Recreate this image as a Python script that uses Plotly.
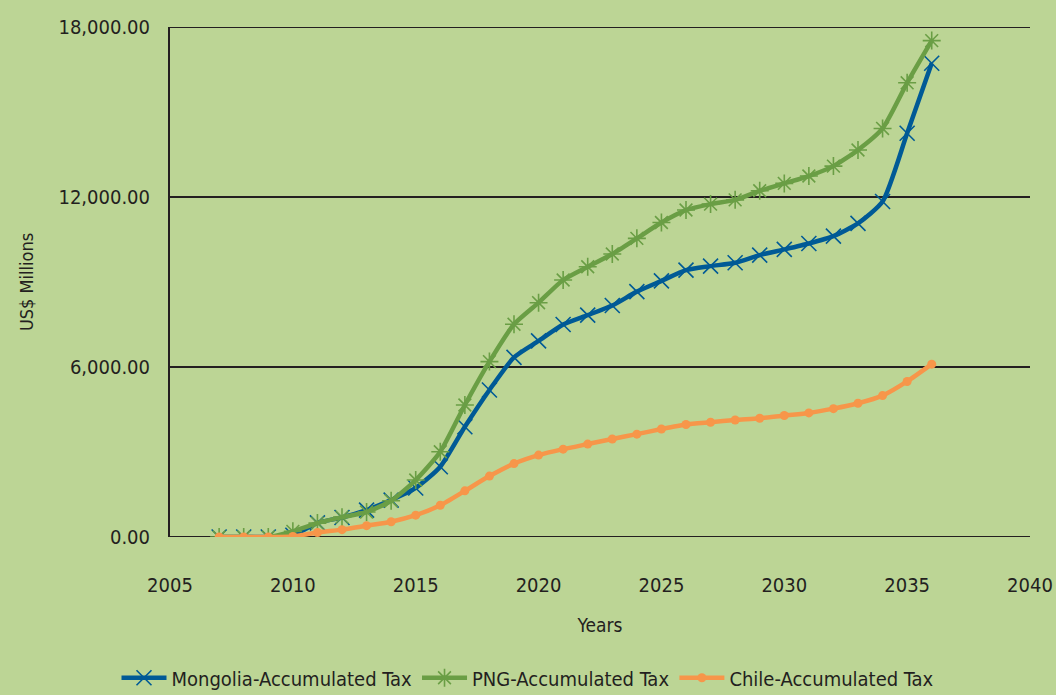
import plotly.graph_objects as go

years = list(range(2007, 2037))

mongolia = [0, 0, 0, 60, 500, 690, 950, 1300, 1730, 2480, 3890, 5190, 6340, 6920, 7500,
            7830, 8170, 8660, 9040, 9420, 9560, 9680, 9950, 10150, 10360, 10620, 11070, 11840,
            14250, 16720]
png = [0, 0, 0, 200, 490, 700, 880, 1280, 2010, 3010, 4660, 6190, 7510, 8270, 9070,
       9540, 9990, 10540, 11100, 11540, 11750, 11900, 12220, 12480, 12740, 13090, 13660, 14420,
       16030, 17520]
chile = [0, 0, 0, 20, 160, 260, 400, 540, 770, 1120, 1630, 2150, 2590, 2890, 3100,
         3280, 3460, 3630, 3810, 3970, 4050, 4130, 4190, 4290, 4380, 4530, 4720, 4990,
         5490, 6100]

x_ticks = [2005, 2010, 2015, 2020, 2025, 2030, 2035, 2040]
y_ticks = [0, 6000, 12000, 18000]
y_tick_labels = ["0.00", "6,000.00", "12,000.00", "18,000.00"]

BG = "#BCD595"
INK = "#231F20"
FONT = "DejaVu Sans Condensed, Liberation Sans Narrow, Noto Sans, sans-serif"

fig = go.Figure()
fig.add_trace(go.Scatter(
    x=years, y=mongolia, name="Mongolia-Accumulated Tax", mode="lines+markers",
    line=dict(color="#005A96", width=4.5, shape="spline", smoothing=0.6),
    marker=dict(symbol="x-thin", size=15, line=dict(color="#005A96", width=1.6), color="#005A96"),
))
fig.add_trace(go.Scatter(
    x=years, y=png, name="PNG-Accumulated Tax", mode="lines+markers",
    line=dict(color="#6A9E45", width=4.5, shape="spline", smoothing=0.6),
    marker=dict(symbol="asterisk", size=15, line=dict(color="#6A9E45", width=1.6), color="#6A9E45"),
))
fig.add_trace(go.Scatter(
    x=years, y=chile, name="Chile-Accumulated Tax", mode="lines+markers",
    line=dict(color="#F7964A", width=4.5, shape="spline", smoothing=0.6),
    marker=dict(symbol="circle", size=9, color="#F7964A"),
))

fig.update_layout(
    width=1056, height=695,
    paper_bgcolor=BG, plot_bgcolor=BG,
    margin=dict(l=170, r=26, t=27, b=158, autoexpand=False),
    font=dict(family=FONT, size=19, color=INK),
    showlegend=True,
    legend=dict(orientation="h", xref="container", x=0.5, xanchor="center",
                y=-0.276, yanchor="middle", itemwidth=45,
                font=dict(size=20), bgcolor="rgba(0,0,0,0)",
                traceorder="normal"),
    xaxis=dict(range=[2005, 2040], tickvals=x_ticks, showgrid=False, zeroline=False,
               showline=False, ticks="outside", ticklen=30, tickcolor="rgba(0,0,0,0)",
               tickfont=dict(size=20),
               title=dict(text="Years", standoff=22, font=dict(size=19)), fixedrange=True),
    yaxis=dict(range=[0, 18000], tickvals=y_ticks, ticktext=y_tick_labels,
               showgrid=True, gridcolor=INK, gridwidth=2, zeroline=False,
               showline=True, linecolor=INK, linewidth=2, mirror=False,
               ticks="outside", ticklen=14, tickcolor="rgba(0,0,0,0)",
               tickfont=dict(size=20),
               title=dict(text="US$ Millions", standoff=20, font=dict(size=18))),
)
for yv in (0, 18000):
    fig.add_shape(type="line", xref="paper", yref="y", x0=0, x1=1, y0=yv, y1=yv,
                  line=dict(color=INK, width=2), layer="below")

fig.write_html("out.html", config={"displayModeBar": False},
               post_script="document.body.style.margin='0px';document.body.style.overflow='hidden';")
